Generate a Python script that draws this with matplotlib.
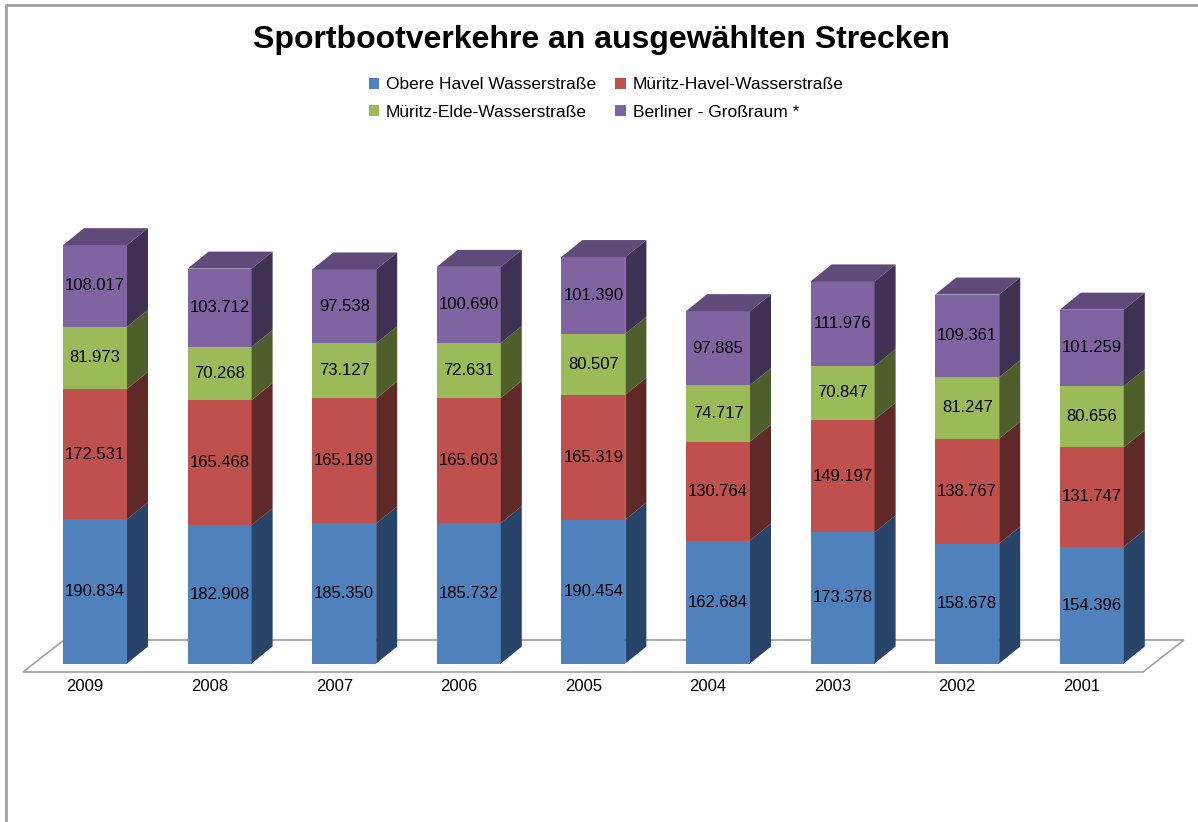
import matplotlib.pyplot as plt
from matplotlib.patches import Polygon, Patch

plt.rcParams['font.family'] = ['Liberation Sans', 'DejaVu Sans']

years = ['2009', '2008', '2007', '2006', '2005', '2004', '2003', '2002', '2001']
obere_havel = [190.834, 182.908, 185.350, 185.732, 190.454, 162.684, 173.378, 158.678, 154.396]
mueritz_havel = [172.531, 165.468, 165.189, 165.603, 165.319, 130.764, 149.197, 138.767, 131.747]
mueritz_elde = [81.973, 70.268, 73.127, 72.631, 80.507, 74.717, 70.847, 81.247, 80.656]
berlin = [108.017, 103.712, 97.538, 100.690, 101.390, 97.885, 111.976, 109.361, 101.259]

series = [obere_havel, mueritz_havel, mueritz_elde, berlin]
names = ['Obere Havel Wasserstraße', 'Müritz-Havel-Wasserstraße',
         'Müritz-Elde-Wasserstraße', 'Berliner - Großraum *']
front = ['#4F81BD', '#C0504D', '#9BBB59', '#8064A2']
side = ['#284468', '#5F2928', '#4E5F2C', '#3F3152']
top_col = '#5F4A7A'

W, H = 1198, 822
fig = plt.figure(figsize=(W / 100, H / 100), dpi=100)
ax = fig.add_axes([0, 0, 1, 1])

# pixel layout -> data units
px_x = 124.6      # px per category
px_v = 0.756      # px per value unit
x0_px, base_px = 95, 663.5
ax.set_xlim(-x0_px / px_x, (W - x0_px) / px_x)
ax.set_ylim((base_px - H) / px_v, base_px / px_v)
ax.axis('off')

bw = 64 / px_x
ddx, ddy = 21 / px_x, 17 / px_v

# floor
fy = (base_px - 672) / px_v
fx0, fx1 = (23 - x0_px) / px_x, (1143 - x0_px) / px_x
fdx, fdy = 41 / px_x, 32 / px_v
ax.add_patch(Polygon([(fx0, fy), (fx0 + fdx, fy + fdy), (fx1 + fdx, fy + fdy), (fx1, fy)],
                     closed=True, facecolor='white', edgecolor='#A0A0A0', lw=1.2, zorder=1))

for i in range(len(years)):
    bottom = 0
    for s, vals in enumerate(series):
        h = vals[i]
        ax.bar(i, h, bottom=bottom, width=bw, color=front[s], zorder=2)
        xr = i + bw / 2
        ax.add_patch(Polygon([(xr, bottom), (xr + ddx, bottom + ddy),
                              (xr + ddx, bottom + h + ddy), (xr, bottom + h)],
                             closed=True, facecolor=side[s], edgecolor='none', zorder=2))
        ax.text(i, bottom + h / 2, f'{h:.3f}', ha='center', va='center', fontsize=12, zorder=3)
        bottom += h
    xl = i - bw / 2
    ax.add_patch(Polygon([(xl, bottom), (xl + ddx, bottom + ddy),
                          (xl + bw + ddx, bottom + ddy), (xl + bw, bottom)],
                         closed=True, facecolor=top_col, edgecolor='none', zorder=2))
    ax.text(i - 10 / px_x, (base_px - 686) / px_v, years[i], ha='center', va='center', fontsize=12)

# frame lines (top and left only)
ax.plot([6 / W, 6 / W, 1197 / W], [0, 1 - 5 / H, 1 - 5 / H], transform=ax.transAxes,
        color='#A0A0A0', lw=2, clip_on=False)

fig.text(601 / W, 1 - 40 / H, 'Sportbootverkehre an ausgewählten Strecken',
         ha='center', va='center', fontsize=23, fontweight='bold')

# legend filled row by row
handles = [Patch(facecolor=c, edgecolor='none') for c in front]
order = [0, 2, 1, 3]
fig.legend([handles[k] for k in order], [names[k] for k in order], ncol=2, loc='center',
           bbox_to_anchor=(606 / W, 1 - 98.5 / H), frameon=False, fontsize=12.5,
           handlelength=0.6, handleheight=0.6, handletextpad=0.4, columnspacing=1.1,
           labelspacing=0.7)

fig.savefig('out.png', dpi=100)
